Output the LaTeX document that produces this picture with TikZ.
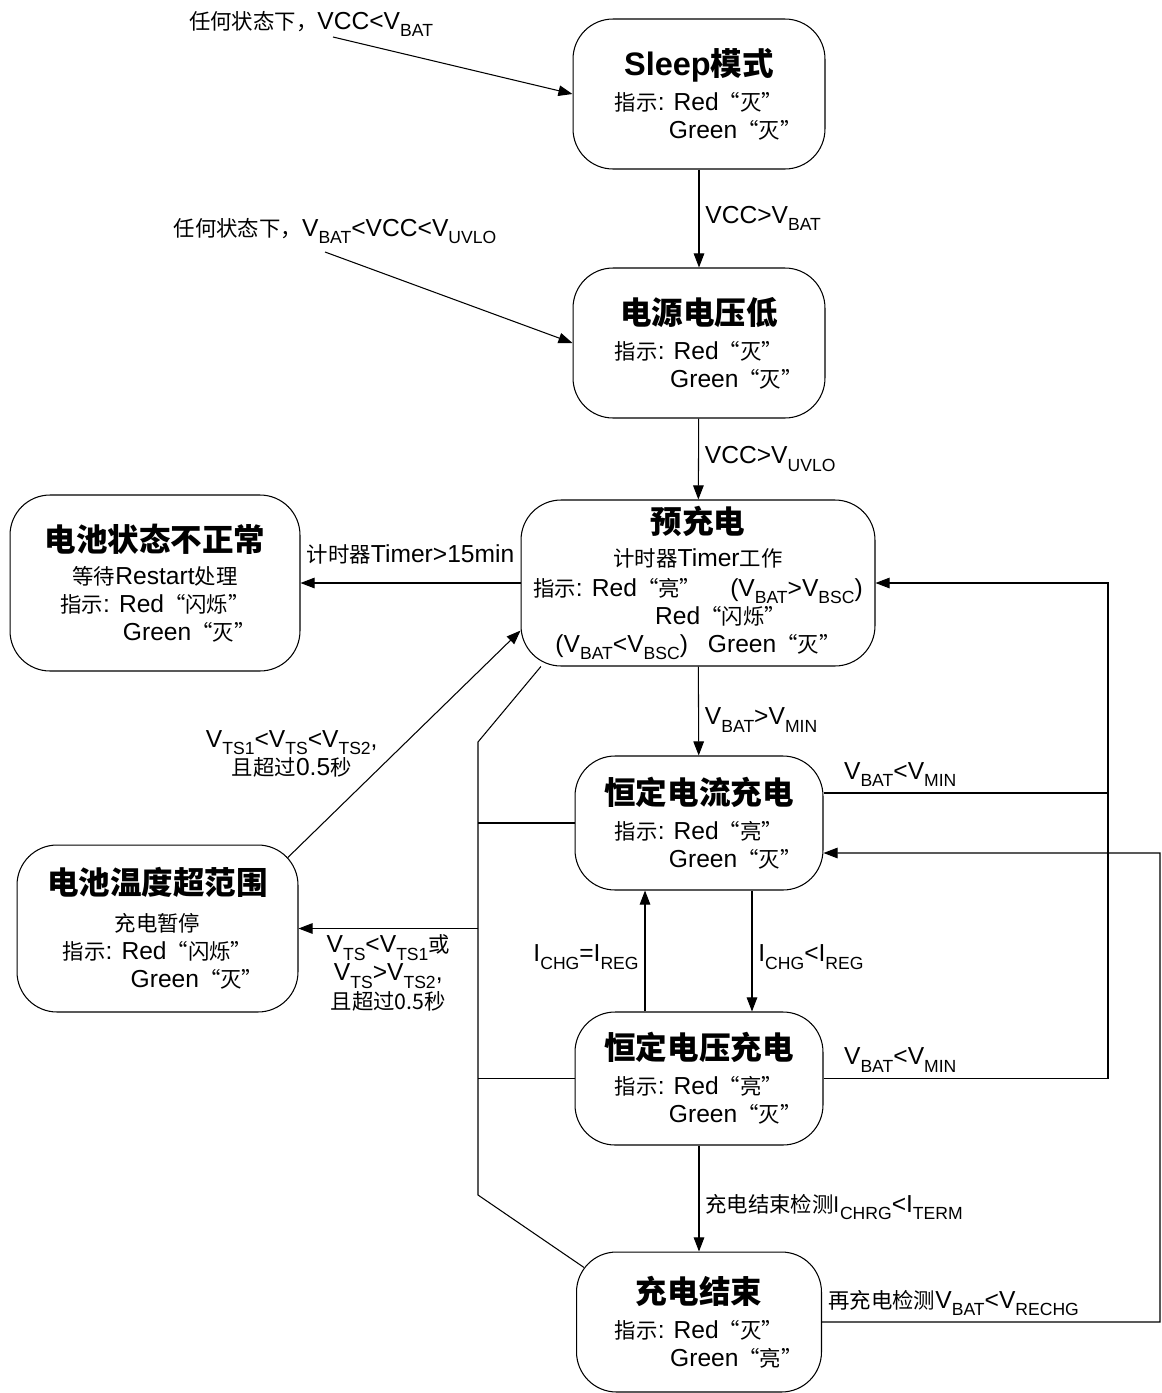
\documentclass[tikz,border=0pt]{standalone}
\usepackage{fontspec}
\setmainfont{Liberation Sans}
\newfontfamily\zhfont{Noto Sans CJK SC}[Scale=0.87]
\newfontfamily\zhbfont{Noto Sans CJK SC}[Scale=0.97]
\newcommand{\zh}[1]{{\zhfont #1}}
\newcommand{\zhb}[1]{{\zhbfont\bfseries #1}}
\newcommand{\ttl}[1]{{\fontsize{18.5pt}{22pt}\selectfont\bfseries #1}}
\newcommand{\subs}[1]{\raisebox{-0.3em}{\fontsize{10pt}{10pt}\selectfont #1}}
\usepackage{tikz}
\usetikzlibrary{arrows.meta,positioning,calc}

\begin{document}
\begin{tikzpicture}
[x=0.02cm, y=-0.02cm, line width=0.6pt,
>={Triangle[length=8pt,width=6pt]},
font=\fontsize{14pt}{16pt}\selectfont,
stbox/.style={draw, rounded corners=0.8cm, align=center, inner sep=0pt},
lbl/.style={align=center}]
\useasboundingbox (0,0) rectangle (1162,1393);

\node (sleep) at (699,94) [stbox, minimum width=5.04cm, minimum height=3cm]
{\ttl{Sleep\zhb{模式}}\\[4pt]\zh{指示}: Red\zh{“灭”}\\\hspace*{1.45cm}Green\zh{“灭”}};
\node (low) at (699,343) [stbox, minimum width=5.04cm, minimum height=3cm]
{\ttl{\zhb{电源电压低}}\\[4pt]\zh{指示}: Red\zh{“灭”}\\\hspace*{1.5cm}Green\zh{“灭”}};
\node (pre) at (698,583) [stbox, minimum width=7.08cm, minimum height=3.32cm]
{\ttl{\zhb{预充电}}\\[3pt]\zh{计时器}Timer\zh{工作}\\[1pt]
\zh{指示}: Red\zh{“亮”}\hspace{0.58cm}(V\subs{BAT}>V\subs{BSC})\\
\hspace*{0.9cm}Red\zh{“闪烁”}\\
(V\subs{BAT}<V\subs{BSC})\hspace{0.4cm}Green\zh{“灭”}};
\node (fault) at (155,583) [stbox, minimum width=5.8cm, minimum height=3.52cm]
{\ttl{\zhb{电池状态不正常}}\\[3pt]\zh{等待}Restart\zh{处理}\\
\zh{指示}: Red\zh{“闪烁”}\\\hspace*{1.37cm}Green\zh{“灭”}};
\node (cc) at (699,823) [stbox, minimum width=4.96cm, minimum height=2.68cm]
{\ttl{\zhb{恒定电流充电}}\\[4pt]\zh{指示}: Red\zh{“亮”}\\\hspace*{1.45cm}Green\zh{“灭”}};
\node (temp) at (157.5,928.5) [stbox, minimum width=5.62cm, minimum height=3.34cm]
{\ttl{\zhb{电池温度超范围}}\\[5pt]\zh{充电暂停}\\
\zh{指示}: Red\zh{“闪烁”}\\\hspace*{1.58cm}Green\zh{“灭”}};
\node (cv) at (699,1078.5) [stbox, minimum width=4.96cm, minimum height=2.66cm]
{\ttl{\zhb{恒定电压充电}}\\[4pt]\zh{指示}: Red\zh{“亮”}\\\hspace*{1.45cm}Green\zh{“灭”}};
\node (done) at (699,1322) [stbox, minimum width=4.9cm, minimum height=2.8cm]
{\ttl{\zhb{充电结束}}\\[4pt]\zh{指示}: Red\zh{“灭”}\\\hspace*{1.5cm}Green\zh{“亮”}};

\node (cond1) at (311,24) [lbl] {\zh{任何状态下，}VCC<V\subs{BAT}};
\node (cond2) at (335,231) [lbl] {\zh{任何状态下，}V\subs{BAT}<VCC<V\subs{UVLO}};
\coordinate (c1) at (333,37);
\coordinate (c2) at (325,252);
\coordinate (rt) at (1108,583);
\coordinate (rr) at (1160,853);
\coordinate (bt) at (478,742);
\coordinate (bb) at (478,1195);

\draw[->] (c1) -- (sleep.west);
\draw[->] (c2) -- (low.west);
\draw[->] (sleep) -- node[lbl, right] {VCC>V\subs{BAT}} (low);
\draw[->] (low) -- node[lbl, right] {VCC>V\subs{UVLO}} (pre);
\draw[->] (pre) -- node[lbl, above=0.25cm] {\zh{计时器}Timer>15min} (fault);
\draw[->] (pre) -- node[lbl, right, pos=.6] {V\subs{BAT}>V\subs{MIN}} (cc);
\draw[->] ([xshift=1.06cm]cc.south) -- node[lbl, right, pos=.55] {I\subs{CHG}<I\subs{REG}} ([xshift=1.06cm]cv.north);
\draw[->] ([xshift=-1.08cm]cv.north) -- node[lbl, left, pos=.45] {I\subs{CHG}=I\subs{REG}} ([xshift=-1.08cm]cc.south);
\draw[->] (cv) -- node[lbl, right, pos=.58] {\zh{充电结束检测I}\subs{CHRG}<I\subs{TERM}} (done);

\draw[->] (cv.east) -- node[lbl, above right, pos=.05] {V\subs{BAT}<V\subs{MIN}} (cv.east -| rt) -- (rt) -- (pre.east);
\draw ([yshift=0.6cm]cc.east) -- node[lbl, above right, pos=.05] {V\subs{BAT}<V\subs{MIN}} ([yshift=0.6cm]cc.east -| rt);
\draw[->] (done.east) node[lbl, above right] {\zh{再充电检测}V\subs{BAT}<V\subs{RECHG}} -| (rr) -- ([yshift=-0.6cm]cc.east);

\draw[shorten >=-0.19cm] (pre.208) -- (bt) -- (bb) -- (done.154);
\draw (cc.west) -- (cc.west -| bt);
\draw (cv.west) -- (cv.west -| bt);
\draw[->] (bt |- temp.east) -- node[lbl, below] {V\subs{TS}<V\subs{TS1}\zh{或}\\V\subs{TS}>V\subs{TS2},\\\zh{且超过0.5秒}} (temp.east);
\draw[->, shorten <=-0.3cm] (temp.30) -- node[lbl, left=0.2cm, pos=.43] {V\subs{TS1}<V\subs{TS}<V\subs{TS2},\\\zh{且超过}0.5\zh{秒}} (pre.195);

\end{tikzpicture}
\end{document}
